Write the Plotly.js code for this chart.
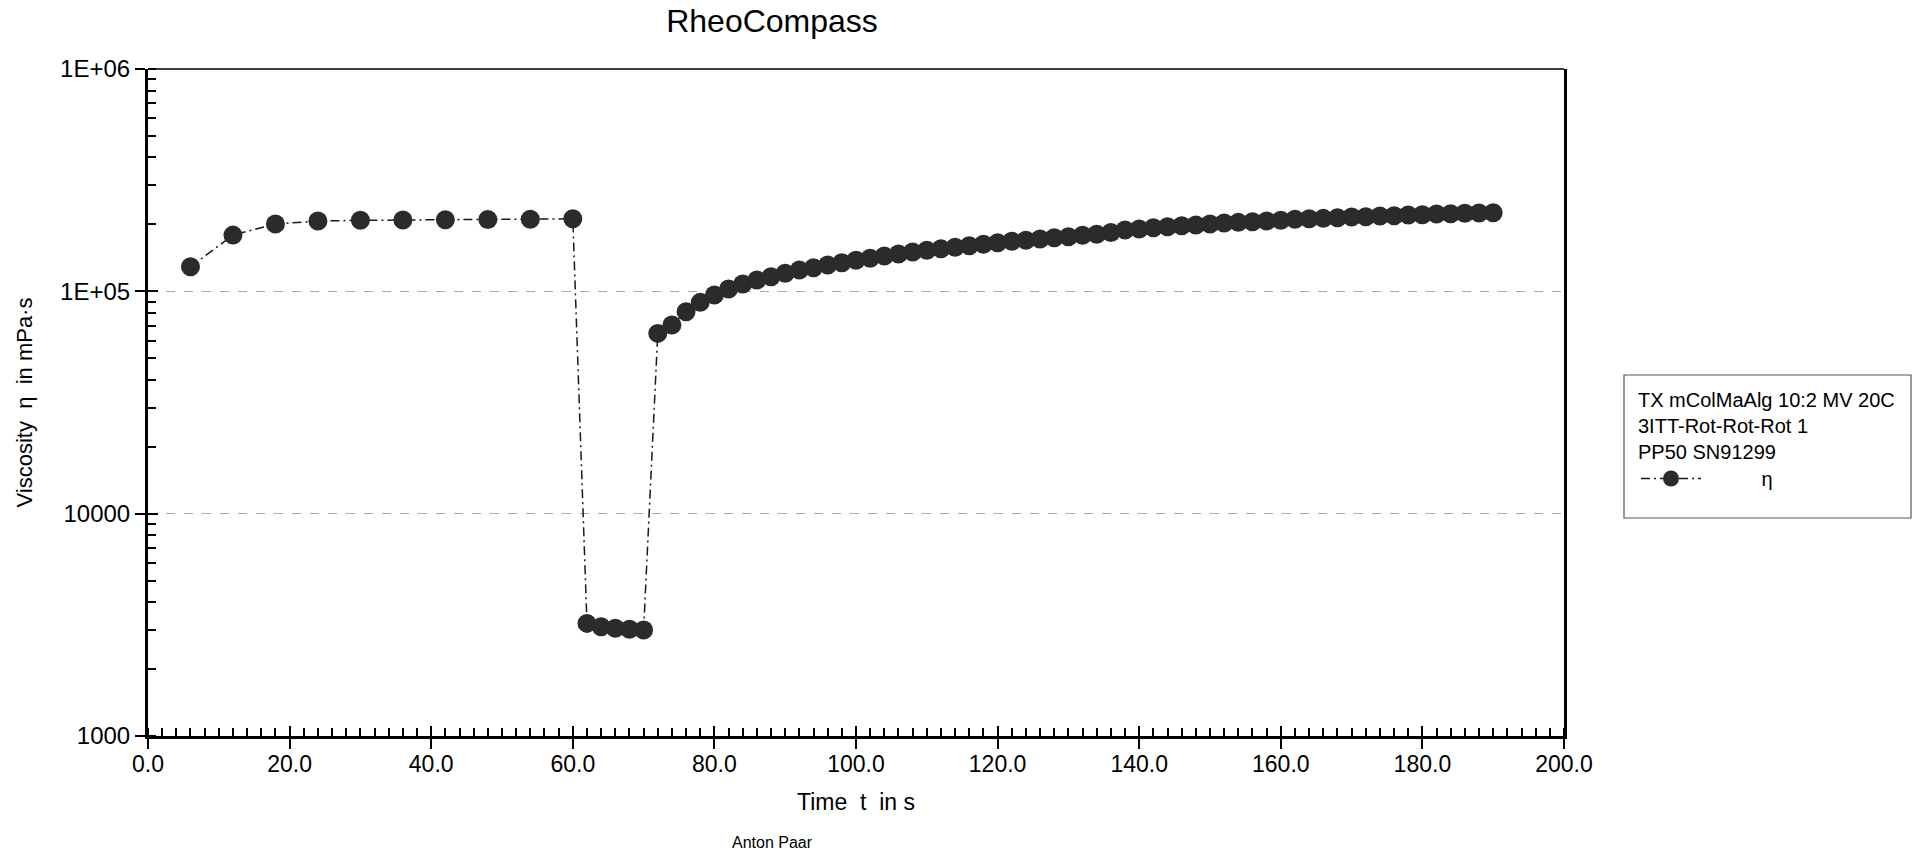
<!DOCTYPE html>
<html>
<head>
<meta charset="utf-8">
<script src="https://cdn.plot.ly/plotly-3.0.1.min.js"></script>
<style>
  html, body { margin: 0; padding: 0; background: #ffffff; }
  #chart { width: 1914px; height: 852px; }
</style>
</head>
<body>
<div id="chart"></div>
<script>
// ---- data ----
const timeS = [
  6, 12, 18, 24, 30, 36, 42, 48, 54, 60,
  62, 64, 66, 68, 70,
  72, 74, 76, 78, 80, 82, 84, 86, 88, 90,
  92, 94, 96, 98, 100, 102, 104, 106, 108, 110,
  112, 114, 116, 118, 120, 122, 124, 126, 128, 130,
  132, 134, 136, 138, 140, 142, 144, 146, 148, 150,
  152, 154, 156, 158, 160, 162, 164, 166, 168, 170,
  172, 174, 176, 178, 180, 182, 184, 186, 188, 190
];
const viscosity = [
  129000, 179000, 201000, 207000, 208600, 209400, 209800, 210500, 211000, 212000,
  3210, 3100, 3050, 3020, 2995,
  64700, 70500, 81000, 89200, 96300, 102400, 107800, 112400, 116300, 120500,
  124700, 127700, 131300, 134500, 137900, 140800, 144200, 147200, 150300, 152900,
  155500, 157800, 160400, 162700, 165400, 167900, 169600, 171900, 174300, 176100,
  178600, 180500, 184000, 188700, 190600, 193200, 195300, 197200, 198700, 200800,
  202900, 204300, 205700, 207200, 208700, 210800, 212100, 212900, 214300, 215800,
  216500, 218100, 218800, 220400, 221100, 222700, 223500, 224300, 225100, 225800
];
const seriesName = "η";
const legendTitleLines = ["TX mColMaAlg 10:2 MV 20C", "3ITT-Rot-Rot-Rot 1", "PP50 SN91299"];
const yTickVals = [1000, 10000, 100000, 1000000];
const yTickText = ["1000", "10000", "1E+05", "1E+06"];
const chartTitle = "RheoCompass";
const xTitle = "Time  t  in s";
const yTitle = "Viscosity  η  in mPa·s";
const footer = "Anton Paar";

const FONT = "Liberation Sans, Arial, sans-serif";

// plot area in pixels
const L = 148, R = 1564, T = 69, B = 736;
const W = R - L, H = B - T;
const px = v => (v - L) / W;
const py = v => (B - v) / H;

const main = {
  x: timeS, y: viscosity,
  name: "\u00a0".repeat(10) + seriesName,
  type: "scatter", mode: "lines+markers",
  line: { color: "#1a1a1a", width: 1.5, dash: "9px,4px,2px,4px" },
  marker: { color: "#2b2b2b", size: 19, symbol: "circle" },
  xaxis: "x", yaxis: "y",
  hoverinfo: "x+y"
};
// invisible companion trace: only drives the overlay axes that draw the inner half of the major ticks
const ghost = {
  x: timeS, y: viscosity, type: "scatter", mode: "markers",
  marker: { opacity: 0, size: 1 }, showlegend: false, hoverinfo: "skip",
  xaxis: "x2", yaxis: "y2"
};

const layout = {
  width: 1914, height: 852,
  paper_bgcolor: "#ffffff", plot_bgcolor: "#ffffff",
  font: { family: FONT, color: "#000000", size: 22 },
  margin: { l: L, r: 1914 - R, t: T, b: 852 - B, pad: 0 },
  title: {
    text: chartTitle, font: { family: FONT, size: 32, color: "#000000" },
    x: 772 / 1914, xanchor: "center", y: 1 - 21 / 852, yanchor: "middle"
  },
  xaxis: {
    range: [0, 200], tick0: 0, dtick: 20, tickformat: ".1f",
    showline: true, linecolor: "#000000", linewidth: 3, mirror: false,
    ticks: "outside", ticklen: 10, tickwidth: 2, tickcolor: "#000000",
    minor: { ticks: "inside", dtick: 2, ticklen: 8, tickwidth: 2, tickcolor: "#000000", showgrid: false },
    showgrid: false, zeroline: false,
    ticklabelstandoff: -5,
    tickfont: { family: FONT, size: 23, color: "#000000" },
    title: { text: xTitle, font: { family: FONT, size: 23, color: "#000000" }, standoff: 19 }
  },
  yaxis: {
    type: "log", range: [3, 6],
    tickvals: yTickVals, ticktext: yTickText,
    showline: true, linecolor: "#000000", linewidth: 3, mirror: true,
    ticks: "outside", ticklen: 10, tickwidth: 2, tickcolor: "#000000",
    minor: { ticks: "inside", dtick: "D1", ticklen: 8, tickwidth: 2, tickcolor: "#000000", showgrid: false },
    showgrid: true, gridcolor: "#a8a8a8", gridwidth: 1.5, griddash: "dash",
    zeroline: false,
    tickfont: { family: FONT, size: 24, color: "#000000" },
    title: { text: yTitle, font: { family: FONT, size: 22, color: "#000000" }, standoff: 22 }
  },
  xaxis2: {
    overlaying: "x", anchor: "y2", side: "bottom",
    range: [0, 200], tick0: 0, dtick: 20,
    ticks: "inside", ticklen: 10, tickwidth: 2, tickcolor: "#000000",
    showticklabels: false, showgrid: false, showline: false, zeroline: false
  },
  yaxis2: {
    overlaying: "y", anchor: "x2", side: "left",
    type: "log", range: [3, 6], tickvals: yTickVals,
    ticks: "inside", ticklen: 10, tickwidth: 2, tickcolor: "#000000",
    showticklabels: false, showgrid: false, showline: false, zeroline: false
  },
  shapes: [
    { type: "line", xref: "paper", yref: "paper", x0: 0, x1: 1, y0: 1, y1: 1,
      line: { color: "#000000", width: 1.5 } },
    // legend frame
    { type: "rect", xref: "paper", yref: "paper",
      x0: px(1624), x1: px(1911), y0: py(375), y1: py(518),
      line: { color: "#555555", width: 1.2 }, fillcolor: "rgba(0,0,0,0)" }
  ],
  showlegend: true,
  legend: {
    x: px(1636), xanchor: "left",
    y: py(381), yanchor: "top",
    bgcolor: "rgba(0,0,0,0)", borderwidth: 0,
    font: { family: FONT, size: 20, color: "#000000" },
    title: { text: legendTitleLines.join("<br>"), font: { family: FONT, size: 20, color: "#000000" } },
    itemwidth: 60, tracegroupgap: 0
  },
  annotations: [
    { text: footer, xref: "paper", yref: "paper", x: px(772), y: py(842),
      xanchor: "center", yanchor: "middle", showarrow: false,
      font: { family: FONT, size: 16, color: "#000000" } }
  ]
};

Plotly.newPlot("chart", [main, ghost], layout, { displayModeBar: false, staticPlot: true });
</script>
</body>
</html>
